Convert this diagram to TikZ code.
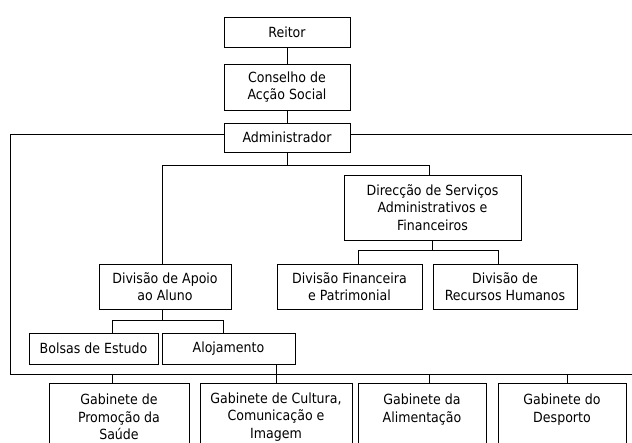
\documentclass[tikz,border=0pt]{standalone}
\usepackage{fontspec}
\setmainfont{DejaVu Sans Condensed}
\usepackage{tikz}

\tikzset{
  orgbox/.style 2 args={draw, fill=white, align=center, inner sep=0pt,
    minimum width=#1, minimum height=#2, font=\fontsize{14}{17.5}\selectfont},
  conn/.style={line width=0.9pt}
}

\begin{document}
\begin{tikzpicture}[x=1pt, y=-1pt, line width=0.9pt]
  \clip (0,0) rectangle (632,443);                 %Rahmen des Bildes
  \draw (10,134) rectangle (645,374);              %Rahmen Administrador
  \coordinate (fb) at (10,374);

  \node [orgbox={126}{30}] (reitor)   at (287,32)    {Reitor};
  \node [orgbox={126}{46}] (conselho) at (287,87)    {Conselho de\\Acção Social};
  \node [orgbox={126}{29}] (admin)    at (287,137.5) {Administrador};
  \node [orgbox={177}{65}] (direccao) at (432.5,207.5) {Direcção de Serviços\\Administrativos e\\Financeiros};
  \node [orgbox={132}{45}] (apoio)    at (165,286.5) {Divisão de Apoio\\ao Aluno};
  \node [orgbox={145}{45}] (fin)      at (349.5,286.5) {Divisão Financeira\\e Patrimonial};
  \node [orgbox={144}{45}] (rh)       at (505,286.5) {Divisão de\\Recursos Humanos};
  \node [orgbox={129}{31}] (bolsas)   at (93.5,348.5) {Bolsas de Estudo};
  \node [orgbox={133}{31}] (aloj)     at (228.5,348.5) {Alojamento};
  \node [orgbox={140}{68}] (gab1)     at (119,417) {Gabinete de\\Promoção da\\Saúde};
  \node [orgbox={152}{68}] (gab2)     at (276,417) {Gabinete de Cultura,\\Comunicação e\\Imagem};
  \node [orgbox={128}{68}] (gab3)     at (422,417) {Gabinete da\\Alimentação\\~};
  \node [orgbox={128}{68}] (gab4)     at (562,417) {Gabinete do\\Desporto\\~};

  \draw (reitor) -- (conselho);
  \draw (conselho) -- (admin);
  \draw (admin.south) -- ++(0,13) coordinate (j1);
  \draw ([xshift=-3pt]apoio.north) |- (j1) -| ([xshift=-3.5pt]direccao.north);
  \draw (direccao.south) -- ++(0,10) coordinate (j2);
  \draw ([xshift=8.5pt]fin.north) |- (j2) -| ([xshift=-7pt]rh.north);
  \draw ([xshift=-3pt]apoio.south) -- ++(0,11) coordinate (j3);
  \draw ([xshift=18.5pt]bolsas.north) |- (j3) -| ([xshift=-5.5pt]aloj.north);
  \draw (gab2.north) -- (gab2.north |- aloj.south);  %Alojamento
  \draw ([xshift=-7pt]gab1.north) -- ([xshift=-7pt]gab1.north |- fb);
  \draw ([xshift=7pt]gab3.north) -- ([xshift=7pt]gab3.north |- fb);
  \draw ([xshift=5pt]gab4.north) -- ([xshift=5pt]gab4.north |- fb);
\end{tikzpicture}
\end{document}
